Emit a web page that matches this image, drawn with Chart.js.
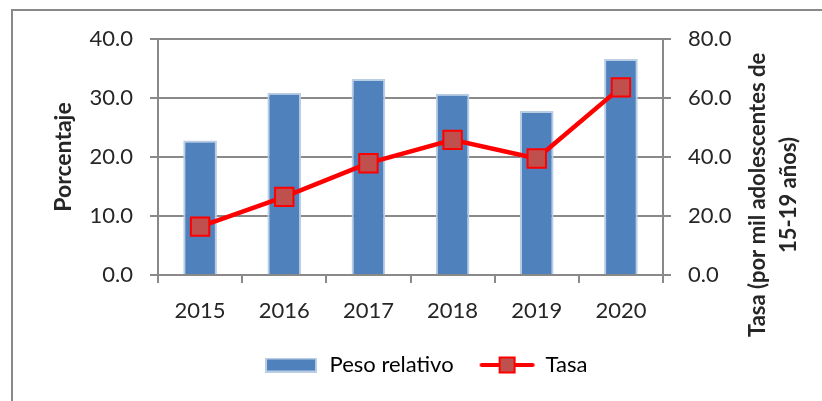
<!DOCTYPE html>
<html>
<head>
<meta charset="utf-8">
<script src="https://cdn.jsdelivr.net/npm/chart.js@4"></script>
<style>
    html, body { margin: 0; padding: 0; background: #fff; }
    #wrap { width: 822px; height: 401px; overflow: hidden; }
</style>
</head>
<body>
<div id="wrap"><canvas id="embarazoChart" width="822" height="401"></canvas></div>
<script>
const anios = ['2015', '2016', '2017', '2018', '2019', '2020'];
const pesoRelativo = [22.8, 30.9, 33.2, 30.7, 27.8, 36.6];
const tasa = [16.4, 26.5, 37.9, 45.8, 39.5, 63.6];
const etiquetasSerie = ['Peso relativo', 'Tasa'];
const tituloIzq = 'Porcentaje';
const tituloDer = ['Tasa (por mil adolescentes de', '15-19 años)'];

const gris = '#898989';
const texto = '#262626';
const fuente = 'Lato, "Open Sans", sans-serif';

// iconos de la leyenda (barra y linea con marcador)
function iconoBarra() {
    const c = document.createElement('canvas');
    c.width = 52; c.height = 15;
    const g = c.getContext('2d');
    g.fillStyle = '#B9CDE5';
    g.fillRect(0, 0, 52, 15);
    g.fillStyle = '#4F81BD';
    g.fillRect(2, 2, 48, 11);
    return c;
}

function iconoLinea() {
    const c = document.createElement('canvas');
    c.width = 57; c.height = 18;
    const g = c.getContext('2d');
    g.strokeStyle = '#FF0000';
    g.lineWidth = 4;
    g.lineCap = 'round';
    g.beginPath(); g.moveTo(3, 9); g.lineTo(54, 9); g.stroke();
    g.fillStyle = '#C0504D';
    g.fillRect(21, 1.5, 15, 15);
    g.lineWidth = 2;
    g.strokeRect(21, 1.5, 15, 15);
    return c;
}
const iconos = [iconoBarra(), iconoLinea()];

// ancho fijo de los ejes para que el area del grafico quede en su sitio
function fijarAncho(w) {
    return (scale) => {
        scale.width = w;
        scale.paddingTop = 0; scale.paddingBottom = 0;
        scale.paddingLeft = 0; scale.paddingRight = 0;
    };
}

const marco = {
    id: 'marco',
    beforeDraw(chart) {
        const c = chart.ctx;
        c.save();
        c.fillStyle = '#fff';
        c.fillRect(0, 0, chart.width, chart.height);
        c.strokeStyle = gris;
        c.lineWidth = 2;
        c.strokeRect(12, 10, 900, 500);
        c.restore();
    },
    afterDraw(chart) {
        // titulo del eje derecho, leido de abajo hacia arriba
        const c = chart.ctx;
        const area = chart.chartArea;
        const cy = (area.top + area.bottom) / 2 + 38;
        c.save();
        c.fillStyle = texto;
        c.font = 'bold 22px ' + fuente;
        c.textAlign = 'center';
        c.textBaseline = 'middle';
        [758, 789].forEach((x, i) => {
            c.save();
            c.translate(x, cy);
            c.rotate(-Math.PI / 2);
            c.fillText(tituloDer[i], 0, 0);
            c.restore();
        });
        c.restore();
    }
};

const ctx = document.getElementById('embarazoChart').getContext('2d');
const grafico = new Chart(ctx, {
    data: {
        labels: anios,
        datasets: [{
            type: 'bar',
            label: etiquetasSerie[0],
            data: pesoRelativo,
            yAxisID: 'y',
            backgroundColor: '#4F81BD',
            borderColor: '#B9CDE5',
            borderWidth: 2,
            borderSkipped: 'start',
            barPercentage: 0.4,
            categoryPercentage: 1,
            order: 1
        }, {
            type: 'line',
            label: etiquetasSerie[1],
            data: tasa,
            yAxisID: 'y1',
            borderColor: '#FF0000',
            borderWidth: 4.5,
            tension: 0,
            pointStyle: 'rect',
            pointRadius: 13,
            pointBackgroundColor: '#C0504D',
            pointBorderColor: '#FF0000',
            pointBorderWidth: 2,
            order: 0
        }]
    },
    options: {
        responsive: false,
        animation: false,
        layout: { padding: { top: 39, left: 29, right: 0, bottom: 15 } },
        plugins: {
            tooltip: { enabled: false },
            legend: {
                position: 'bottom',
                labels: {
                    usePointStyle: true,
                    pointStyleWidth: 55,
                    padding: 26,
                    color: texto,
                    font: { family: fuente, size: 22 },
                    generateLabels: (chart) => chart.data.datasets.map((ds, i) => ({
                        text: ds.label,
                        pointStyle: iconos[i],
                        fillStyle: 'transparent',
                        strokeStyle: 'transparent',
                        lineWidth: 0,
                        datasetIndex: i
                    }))
                }
            }
        },
        scales: {
            x: {
                offset: true,
                afterFit: (scale) => {
                    scale.height = 53;
                    scale.paddingLeft = 0; scale.paddingRight = 0;
                },
                grid: { drawOnChartArea: false, offset: true, tickLength: 8, color: gris, lineWidth: 2 },
                border: { color: gris, width: 2 },
                ticks: { color: texto, padding: 15, font: { family: fuente, size: 22 } }
            },
            y: {
                position: 'left',
                min: 0, max: 40,
                afterFit: fijarAncho(129),
                ticks: {
                    stepSize: 10,
                    padding: 17,
                    color: texto,
                    font: { family: fuente, size: 22 },
                    callback: (v) => v.toFixed(1)
                },
                grid: { color: gris, lineWidth: 2, tickLength: 8 },
                border: { color: gris, width: 2 },
                title: {
                    display: true,
                    text: tituloIzq,
                    color: texto,
                    padding: { top: 21, bottom: 0 },
                    font: { family: fuente, size: 23, weight: 'bold' }
                }
            },
            y1: {
                position: 'right',
                min: 0, max: 80,
                afterFit: fijarAncho(159),
                ticks: {
                    stepSize: 20,
                    padding: 17,
                    color: texto,
                    font: { family: fuente, size: 22 },
                    callback: (v) => v.toFixed(1)
                },
                grid: { drawOnChartArea: false, color: gris, lineWidth: 2, tickLength: 8 },
                border: { color: gris, width: 2 }
            }
        }
    },
    plugins: [marco]
});
</script>
</body>
</html>
